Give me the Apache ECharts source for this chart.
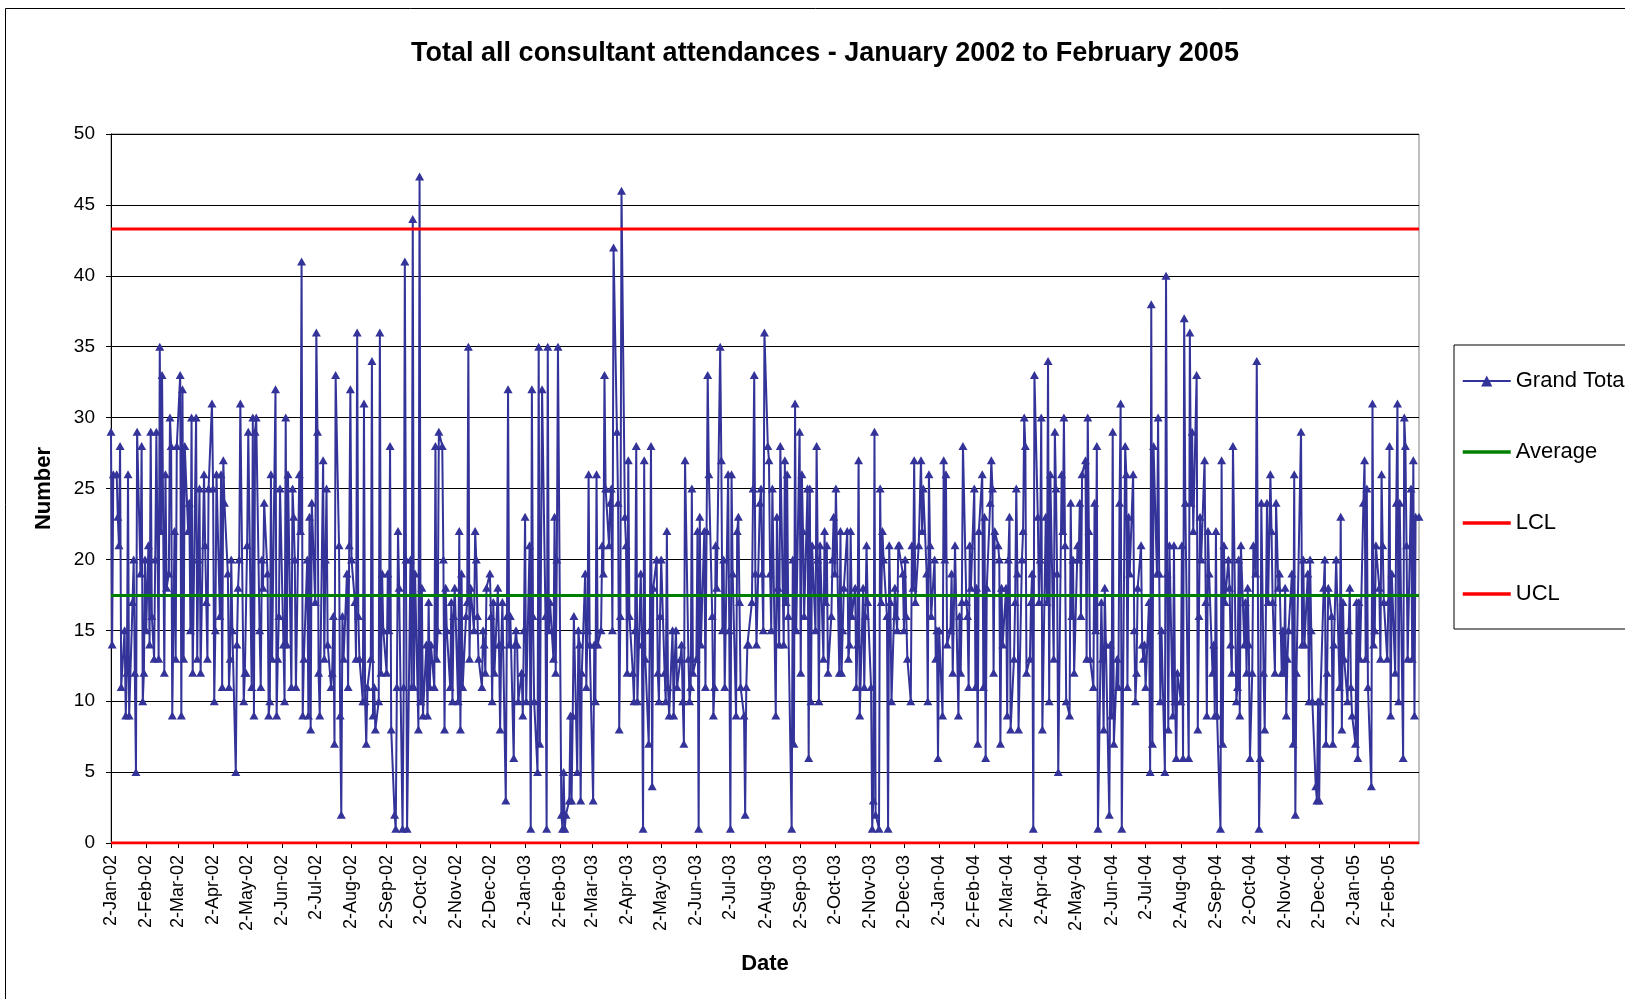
<!DOCTYPE html>
<html><head><meta charset="utf-8">
<script src="https://cdn.jsdelivr.net/npm/echarts@6/dist/echarts.min.js"></script>
<style>html,body{margin:0;padding:0;background:#fff;}#c{width:1625px;height:999px;}</style>
</head><body><div id="c"></div>
<script>
const tickLabels = ['2-Jan-02','2-Feb-02','2-Mar-02','2-Apr-02','2-May-02','2-Jun-02','2-Jul-02','2-Aug-02','2-Sep-02','2-Oct-02','2-Nov-02','2-Dec-02',
  '2-Jan-03','2-Feb-03','2-Mar-03','2-Apr-03','2-May-03','2-Jun-03','2-Jul-03','2-Aug-03','2-Sep-03','2-Oct-03','2-Nov-03','2-Dec-03',
  '2-Jan-04','2-Feb-04','2-Mar-04','2-Apr-04','2-May-04','2-Jun-04','2-Jul-04','2-Aug-04','2-Sep-04','2-Oct-04','2-Nov-04','2-Dec-04',
  '2-Jan-05','2-Feb-05'];
const monthNames = ['Jan','Feb','Mar','Apr','May','Jun','Jul','Aug','Sep','Oct','Nov','Dec'];
const firstDay = [2002, 0, 2];
const lastDay = [2005, 1, 28];

// Grand Total per weekday, one list per month
const gt2002 = [
  [29,14,26,26,23,21,28,11,15,9,12,26,9,17,20,12,5,29,19,28,10,12],
  [20,15,21,14,29,16,13,20,29,13,35,22,33,12,26,18,19,30,28,9,22,13],
  [28,33,9,32,13,28,22,24,15,30,12,30,13,20,25,12,26,21,17,13,25],
  [31,25,10,15,26,16,26,11,27,24,19,11,13,20,15,5,14,18,20,31,10,12],
  [12,21,29,11,30,9,29,30,15,11,20,18,24,19,9,10,26,13,32,9,13,16,25],
  [14,10,30,14,26,11,25,23,20,11,26,22,41,9,13,20,9,23,8,24],
  [17,36,29,12,9,27,13,20,25,14,11,12,16,7,33,21,9,2,16,13,19,11,21],
  [32,20,17,13,36,16,13,10,31,10,7,11,13,34,9,11,8,10,36,12,19,15],
  [12,19,15,28,8,2,1,11,22,18,1,11,41,20,1,20,11,44,11,19,8],
  [47,10,18,9,14,9,17,11,14,11,28,13,15,29,28,20,8,18,15,11,17,10,16],
  [18,10,22,8,19,11,16,17,35,13,18,15,22,20,16,13,11,15,14,12,18],
  [19,16,10,17,12,18,14,8,14,17,3,16,32,14,16,6,14,15,14,10,12,9]
];
const gt2003 = [
  [15,23,10,21,1,32,16,10,5,35,7,32,16,1,35,15,17,13,23,12,20,35],
  [2,1,5,1,2,3,9,3,9,16,5,15,14,3,12,19,11,15,26,14],
  [3,14,10,26,14,15,21,19,33,25,21,24,25,15,42,29,24,8,16,46,23],
  [21,12,27,16,12,10,15,28,10,19,14,1,27,13,7,15,28,4,18,20,12,10],
  [16,20,12,10,22,11,9,15,9,13,15,11,13,14,10,7,27,13,10,11,25,12],
  [13,22,1,23,14,22,11,22,33,26,16,9,11,21,18,35,27,15,20,11,26],
  [15,1,26,19,9,22,23,17,11,9,2,11,14,14,17,25,33,19,14,24,25,19,15],
  [36,28,27,19,15,25,9,23,18,14,28,14,27,17,26,16,1,20,7,31,15],
  [29,12,26,22,16,25,6,25,10,21,15,28,20,10,21,13,22,17,21,12,16,20],
  [23,19,25,12,22,12,15,18,22,13,14,22,16,18,11,14,27,9,18,11,16,21,17],
  [11,1,3,29,2,1,25,17,22,20,16,1,21,17,10,18,16,15,21,21],
  [19,15,20,16,13,10,21,18,27,17,21,27,22,25,19,10,26,21,16,20,13,15]
];
const gt2004 = [
  [6,15,9,27,20,26,14,15,19,12,21,9,16,12,17,28,17,16,11,21,18],
  [25,11,18,7,22,26,11,23,6,18,24,27,25,12,22,21,20,7,18,14],
  [18,9,20,23,8,13,17,25,19,8,20,22,30,28,12,13,17,19,1,33,23,17,20],
  [30,8,23,17,34,10,26,13,29,25,19,5,26,22,30,21,10,9,24,16,20,12],
  [21,20,24,16,26,27,13,30,22,13,11,24,15,28,1,17,13,8,18,14,2],
  [14,9,29,7,13,11,24,31,1,28,26,11,23,19,26,15,10,12,18,21,14,13],
  [14,11,17,5,38,7,28,19,30,19,10,15,5,40,19,8,21,9,21,10,6,12],
  [10,21,6,37,24,6,36,24,29,22,33,8,16,23,20,27,17,9,22,19,12,14],
  [9,22,9,1,27,7,21,17,20,18,14,12,28,10,11,20,9,21,14,17,12,18],
  [14,6,12,21,19,34,1,6,24,12,8,24,17,26,22,17,12,24,18,19,12,15],
  [12,18,9,13,15,19,7,26,2,12,29,14,20,14,19,10,20,15,10,4,3],
  [10,3,10,18,20,7,12,18,16,7,14,20,11,23,8,17,13,10,15,18,11,9]
];
const gt2005 = [
  [7,17,6,17,13,24,27,13,25,11,4,31,14,15,21,18,13,26,21,17,13],
  [17,28,9,19,12,24,31,10,24,6,30,28,21,13,25,13,27,9,23,23]
];
const averageValue = 17.46;
const lclValue = 0;
const uclValue = 43.3;

// build daily category axis
const categories = [];
const catInfo = [];
for (let t = Date.UTC(firstDay[0], firstDay[1], firstDay[2]); t <= Date.UTC(lastDay[0], lastDay[1], lastDay[2]); t += 86400000) {
  const d = new Date(t);
  const day = d.getUTCDate(), m = d.getUTCMonth(), y = d.getUTCFullYear();
  categories.push(day + '-' + monthNames[m] + '-' + String(y).slice(2));
  catInfo.push({ y: y, m: m, wd: d.getUTCDay() });
}
const tickSet = new Set(tickLabels);
const lastIdx = categories.length - 1;

const totalData = [];
[[2002, gt2002], [2003, gt2003], [2004, gt2004], [2005, gt2005]].forEach(function (pair) {
  const yr = pair[0];
  pair[1].forEach(function (vals, m) {
    const days = [], wdays = [];
    catInfo.forEach(function (c, i) {
      if (c.y === yr && c.m === m) { days.push(i); if (c.wd > 0 && c.wd < 6) wdays.push(i); }
    });
    const slots = vals.length <= wdays.length ? wdays : days;
    vals.forEach(function (v, i) {
      const k = vals.length === 1 ? 0 : Math.round(i * (slots.length - 1) / (vals.length - 1));
      totalData.push([slots[k], v]);
    });
  });
});

const FONT = "'Liberation Sans', Arial, sans-serif";
const hiddenSymbol = { color: 'rgba(0,0,0,0)', borderWidth: 0, opacity: 0 };
const chart = echarts.init(document.getElementById('c'), null, { renderer: 'canvas' });
chart.setOption({
  animation: false,
  backgroundColor: '#ffffff',
  title: {
    text: 'Total all consultant attendances - January 2002 to February 2005',
    left: 820, top: 35, textAlign: 'center',
    textStyle: { fontFamily: FONT, fontSize: 27, fontWeight: 'bold', color: '#000' }
  },
  graphic: [{
    type: 'rect', left: 3, top: 6, silent: true, z: -10,
    shape: { x: 0.5, y: 0.5, width: 2000, height: 2000 },
    style: { fill: 'none', stroke: '#000', lineWidth: 1 }
  }],
  legend: {
    orient: 'vertical', left: 1454, top: 345,
    padding: [25, 200, 24, 7], itemGap: 49, itemWidth: 48, itemHeight: 14,
    backgroundColor: '#fff', borderColor: '#000', borderWidth: 1,
    selectedMode: false,
    textStyle: { fontFamily: FONT, fontSize: 22, color: '#000' },
    data: [
      { name: 'Grand Total' },
      { name: 'Average', itemStyle: hiddenSymbol, lineStyle: { width: 3.5 } },
      { name: 'LCL', itemStyle: hiddenSymbol, lineStyle: { width: 3.5 } },
      { name: 'UCL', itemStyle: hiddenSymbol, lineStyle: { width: 3.5 } }
    ]
  },
  grid: { left: 111, right: 206, top: 134, bottom: 156, show: true, borderColor: '#808080', borderWidth: 1 },
  xAxis: {
    type: 'category', data: categories, boundaryGap: false,
    name: 'Date', nameLocation: 'middle', nameGap: 110,
    nameTextStyle: { fontFamily: FONT, fontSize: 22, fontWeight: 'bold', color: '#000' },
    axisLine: { lineStyle: { color: '#000', width: 1 } },
    axisTick: { show: true, length: 5, interval: function (i, v) { return tickSet.has(v); }, lineStyle: { color: '#000' } },
    axisLabel: { interval: function (i, v) { return tickSet.has(v); }, rotate: 90, margin: 12,
      fontFamily: FONT, fontSize: 18, color: '#000' },
    splitLine: { show: false }
  },
  yAxis: {
    type: 'value', min: 0, max: 50, interval: 5,
    name: 'Number', nameLocation: 'middle', nameGap: 56, nameRotate: 90,
    nameTextStyle: { fontFamily: FONT, fontSize: 22, fontWeight: 'bold', color: '#000' },
    axisLine: { show: true, lineStyle: { color: '#000', width: 1 } },
    axisTick: { show: true, length: 5, lineStyle: { color: '#000' } },
    axisLabel: { margin: 16, fontFamily: FONT, fontSize: 19, color: '#000' },
    splitLine: { show: true, lineStyle: { color: '#000', width: 1 } }
  },
  series: [
    {
      name: 'Grand Total', type: 'line', data: totalData,
      symbol: 'triangle', symbolSize: [9, 8], showAllSymbol: true, sampling: null,
      lineStyle: { color: '#333399', width: 2 },
      itemStyle: { color: '#333399' }
    },
    {
      name: 'Average', type: 'line', data: [[0, averageValue], [lastIdx, averageValue]],
      symbol: 'none', lineStyle: { color: '#008000', width: 3 }, itemStyle: { color: '#008000' }
    },
    {
      name: 'LCL', type: 'line', data: [[0, lclValue], [lastIdx, lclValue]],
      symbol: 'none', lineStyle: { color: '#ff0000', width: 3 }, itemStyle: { color: '#ff0000' }
    },
    {
      name: 'UCL', type: 'line', data: [[0, uclValue], [lastIdx, uclValue]],
      symbol: 'none', lineStyle: { color: '#ff0000', width: 3 }, itemStyle: { color: '#ff0000' }
    }
  ]
});
</script>
</body></html>
